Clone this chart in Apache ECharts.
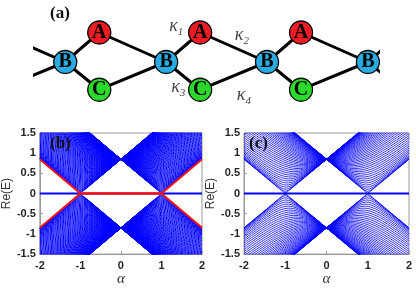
<!DOCTYPE html>
<html><head><meta charset="utf-8">
<script src="https://cdn.jsdelivr.net/npm/echarts@6/dist/echarts.min.js"></script>
<style>html,body{margin:0;padding:0;background:#fff}#chart{width:416px;height:288px}</style>
</head><body><div id="chart"></div>
<script>
// ---------- panel (a): diamond lattice (lattice units) ----------
const cellIndex = [-1, 0, 1, 2, 3];
const siteNames = ['A', 'B', 'C'];
const siteOffsetX = [0.337, 0, 0.337];
const siteOffsetY = [1, 0, -0.94];
const shownCellsA = [0, 1, 2];
const shownCellsB = [0, 1, 2, 3];
const shownCellsC = [0, 1, 2];
const couplingNames = ['1', '2', '3', '4'];
const couplingX = [1.10, 1.75, 1.12, 1.77];
const couplingY = [1.22, 0.92, -0.85, -1.12];

// ---------- panels (b), (c): Re(E) vs alpha ----------
const alphaTicks = [-2, -1, 0, 1, 2];
const energyTicks = [-1.5, -1, -0.5, 0, 0.5, 1, 1.5];
const bandEdgeE = 0.85;   // |Re(E)| where all lines cross at alpha = 0 (slope of the band edges)
// alpha at which each band line reaches its minimum, panel (b)
const modeVertexB = [-0.9995,-0.998,-0.9956,-0.9921,-0.9877,-0.9823,-0.9759,-0.9686,-0.9603,-0.9511,-0.9409,-0.9298,-0.9178,-0.9048,-0.891,-0.8763,-0.8607,-0.8443,-0.8271,-0.809,-0.7902,-0.7705,-0.7501,-0.729,-0.7071,-0.6845,-0.6613,-0.6374,-0.6129,-0.5878,-0.5621,-0.5358,-0.509,-0.4818,-0.454,-0.4258,-0.3971,-0.3681,-0.3387,-0.309,-0.279,-0.2487,-0.2181,-0.1874,-0.1564,-0.1253,-0.0941,-0.0628,-0.0314,0,0.0314,0.0628,0.0941,0.1253,0.1564,0.1874,0.2181,0.2487,0.279,0.309,0.3387,0.3681,0.3971,0.4258,0.454,0.4818,0.509,0.5358,0.5621,0.5878,0.6129,0.6374,0.6613,0.6845,0.7071,0.729,0.7501,0.7705,0.7902,0.809,0.8271,0.8443,0.8607,0.8763,0.891,0.9048,0.9178,0.9298,0.9409,0.9511,0.9603,0.9686,0.9759,0.9823,0.9877,0.9921,0.9956,0.998,0.9995];
// alpha at which each band line reaches its minimum, panel (c)
const modeVertexC = [-1,-0.998,-0.9921,-0.9823,-0.9686,-0.9511,-0.9298,-0.9048,-0.8763,-0.8443,-0.809,-0.7705,-0.729,-0.6845,-0.6374,-0.5878,-0.5358,-0.4818,-0.4258,-0.3681,-0.309,-0.2487,-0.1874,-0.1253,-0.0628,0,0.0628,0.1253,0.1874,0.2487,0.309,0.3681,0.4258,0.4818,0.5358,0.5878,0.6374,0.6845,0.729,0.7705,0.809,0.8443,0.8763,0.9048,0.9298,0.9511,0.9686,0.9823,0.9921,0.998,1];
// red edge states of panel (b)
const edgeSegAlpha = [[-2, -1], [1, 2]];
const edgeSegE = [[0.85, 0], [0, 0.85]];
const zeroModeAlpha = [-1, 1];
const flatBandAlpha = [-2, 2];

// ---------- build ----------
const SERIF = '"Liberation Serif", "Times New Roman", Times, "DejaVu Serif", serif';
const SANS = '"Liberation Sans", Arial, Helvetica, sans-serif';
function site(s, i) { return [i + siteOffsetX[s], siteOffsetY[s]]; }
const bondData = [];
cellIndex.forEach(i => {
  bondData.push(site(1, i), site(0, i), site(1, i + 1), ['-', '-']);
  bondData.push(site(1, i), site(2, i), site(1, i + 1), ['-', '-']);
});

const sampleAlpha = [];
for (let i = 0; i <= 400; i++) sampleAlpha.push(alphaTicks[0] + i * 0.01);
function bandLines(vertices, sign) {
  const pts = [];
  vertices.forEach(v => {
    const xs = sampleAlpha.concat([v]).sort((a, b) => a - b);
    let any = false;
    xs.forEach(a => {
      const e = bandEdgeE * Math.sqrt(Math.max(0, (a - v) * (a - v) + 1 - v * v));
      if (e <= 1.75) { pts.push([a, sign * e]); any = true; }
    });
    if (any) pts.push(['-', '-']);
  });
  return pts;
}
function edgeData(sign) {
  const d = [];
  edgeSegAlpha.forEach((seg, k) => {
    d.push([seg[0], sign * edgeSegE[k][0]], [seg[1], sign * edgeSegE[k][1]], ['-', '-']);
  });
  return d;
}

const blue = '#0000ff', red = '#ff1010';
const lineBase = { type: 'line', symbol: 'none', silent: true, animation: false, emphasis: { disabled: true }, clip: true };
const tickFont = { fontSize: 11, fontWeight: 'bold', color: '#262626', fontFamily: SANS };

function xAx(g) {
  return { gridIndex: g, type: 'value', min: alphaTicks[0], max: alphaTicks[alphaTicks.length - 1], interval: 1,
    name: 'α', nameLocation: 'middle', nameGap: 15,
    nameTextStyle: { fontFamily: SERIF, fontStyle: 'italic', fontSize: 15, color: '#333' },
    axisLine: { show: true, onZero: false, lineStyle: { color: '#999' } },
    axisTick: { show: true, inside: true, length: 3, lineStyle: { color: '#999' } },
    axisLabel: Object.assign({ margin: 6 }, tickFont), splitLine: { show: false } };
}
function yAx(g) {
  return { gridIndex: g, type: 'value', min: energyTicks[0], max: energyTicks[energyTicks.length - 1], interval: 0.5,
    name: 'Re(E)', nameLocation: 'middle', nameGap: 22,
    nameTextStyle: { fontFamily: SANS, fontSize: 12, color: '#333' },
    axisLine: { show: true, onZero: false, lineStyle: { color: '#999' } },
    axisTick: { show: true, inside: true, length: 3, lineStyle: { color: '#999' } },
    axisLabel: Object.assign({ margin: 4 }, tickFont), splitLine: { show: false } };
}

const nodeColors = ['#ED1C24', '#29ABE2', '#2BD92B'];
const shownCells = [shownCellsA, shownCellsB, shownCellsC];
const nodeSeries = siteNames.map((nm, s) => ({
  type: 'scatter', xAxisIndex: 0, yAxisIndex: 0, silent: true, animation: false, clip: false,
  symbol: 'circle', symbolSize: 23, z: 5,
  itemStyle: { color: nodeColors[s], borderColor: '#000', borderWidth: 1.3, opacity: 1 },
  label: { show: true, position: 'inside', formatter: nm, fontFamily: SERIF, fontWeight: 'bold', fontSize: 20, color: '#000' },
  data: shownCells[s].map(i => site(s, i))
}));

const option = {
  animation: false,
  grid: [
    { left: 35, top: 3, width: 343, height: 118 },
    { left: 38, top: 133, width: 164, height: 122, show: true, borderColor: '#999', borderWidth: 1 },
    { left: 244, top: 133, width: 165, height: 122, show: true, borderColor: '#999', borderWidth: 1 }
  ],
  xAxis: [{ gridIndex: 0, type: 'value', min: -0.3, max: 3.1, show: false }, xAx(1), xAx(2)],
  yAxis: [{ gridIndex: 0, type: 'value', min: -2, max: 2, show: false }, yAx(1), yAx(2)],
  graphic: [
    { type: 'text', left: 50, top: 5, style: { text: '(a)', font: 'bold 17px ' + SERIF, fill: '#111' }, z: 10 },
    { type: 'text', left: 50, top: 135, style: { text: '(b)', font: 'bold 17px ' + SERIF, fill: '#111' }, z: 10 },
    { type: 'text', left: 249, top: 135, style: { text: '(c)', font: 'bold 17px ' + SERIF, fill: '#111' }, z: 10 }
  ],
  series: [
    Object.assign({}, lineBase, { xAxisIndex: 0, yAxisIndex: 0, data: bondData, lineStyle: { color: '#000', width: 3 }, z: 2 }),
    ...nodeSeries,
    { type: 'scatter', xAxisIndex: 0, yAxisIndex: 0, silent: true, animation: false, symbolSize: 1,
      itemStyle: { color: 'rgba(0,0,0,0)' },
      label: { show: true, position: 'inside', formatter: p => '{k|κ}{s|' + couplingNames[p.dataIndex] + '}',
        rich: { k: { fontFamily: SERIF, fontStyle: 'italic', fontSize: 18, color: '#111', lineHeight: 18 },
                s: { fontFamily: SERIF, fontStyle: 'italic', fontSize: 11, color: '#111', lineHeight: 24, verticalAlign: 'bottom' } } },
      data: couplingX.map((x, k) => [x, couplingY[k]]) },
    // panel (b)
    Object.assign({}, lineBase, { xAxisIndex: 1, yAxisIndex: 1, data: bandLines(modeVertexB, 1), lineStyle: { color: blue, width: 1 } }),
    Object.assign({}, lineBase, { xAxisIndex: 1, yAxisIndex: 1, data: bandLines(modeVertexB, -1), lineStyle: { color: blue, width: 1 } }),
    Object.assign({}, lineBase, { xAxisIndex: 1, yAxisIndex: 1, data: flatBandAlpha.map(a => [a, 0]), lineStyle: { color: blue, width: 2 } }),
    Object.assign({}, lineBase, { xAxisIndex: 1, yAxisIndex: 1, data: edgeData(1).concat(edgeData(-1)), lineStyle: { color: red, width: 2 }, z: 4 }),
    Object.assign({}, lineBase, { xAxisIndex: 1, yAxisIndex: 1, data: zeroModeAlpha.map(a => [a, 0]), lineStyle: { color: red, width: 2.5 }, z: 4 }),
    // panel (c)
    Object.assign({}, lineBase, { xAxisIndex: 2, yAxisIndex: 2, data: bandLines(modeVertexC, 1), lineStyle: { color: blue, width: 0.8 } }),
    Object.assign({}, lineBase, { xAxisIndex: 2, yAxisIndex: 2, data: bandLines(modeVertexC, -1), lineStyle: { color: blue, width: 0.8 } }),
    Object.assign({}, lineBase, { xAxisIndex: 2, yAxisIndex: 2, data: flatBandAlpha.map(a => [a, 0]), lineStyle: { color: blue, width: 2 } })
  ]
};
const chart = echarts.init(document.getElementById('chart'), null, { renderer: 'canvas' });
chart.setOption(option);
</script></body></html>
